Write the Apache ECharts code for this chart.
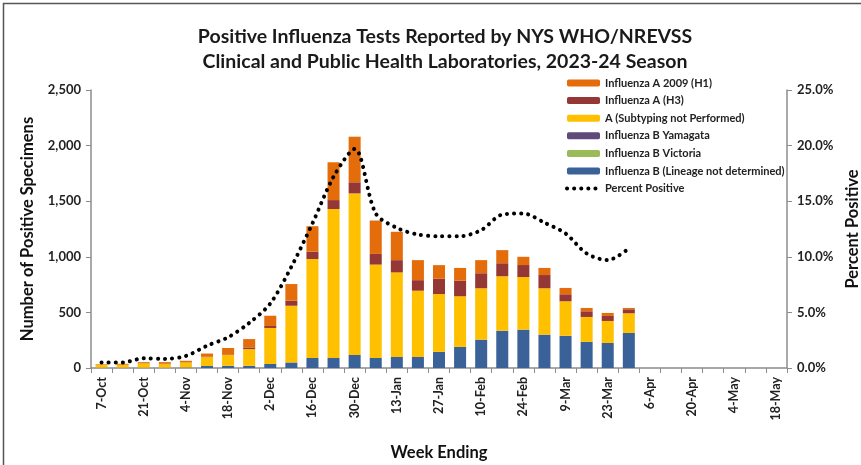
<!DOCTYPE html>
<html>
<head>
<meta charset="utf-8">
<script src="https://cdn.jsdelivr.net/npm/echarts@6/dist/echarts.min.js"></script>
<style>
html,body{margin:0;padding:0;background:#fff;}
#c{width:861px;height:465px;}
</style>
</head>
<body>
<div id="c"></div>
<script>
var weeks = ['7-Oct','14-Oct','21-Oct','28-Oct','4-Nov','11-Nov','18-Nov','25-Nov','2-Dec','9-Dec','16-Dec','23-Dec','30-Dec','6-Jan','13-Jan','20-Jan','27-Jan','3-Feb','10-Feb','17-Feb','24-Feb','2-Mar','9-Mar','16-Mar','23-Mar','30-Mar','6-Apr','13-Apr','20-Apr','27-Apr','4-May','11-May','18-May'];
var fluBUndetermined = [3,3,3,3,5,18,20,20,36,50,90,90,117,90,100,100,145,190,255,335,345,300,290,235,225,315];
var fluBVictoria     = [0,0,0,0,0,0,0,0,0,0,0,0,0,0,0,0,0,0,0,0,0,0,0,0,0,0];
var fluBYamagata     = [0,0,0,0,0,0,0,0,0,0,0,0,0,0,0,0,0,0,0,0,0,0,0,0,0,0];
var fluANotSubtyped  = [24,25,40,32,45,80,97,150,324,510,890,1340,1453,840,760,595,520,455,462,490,473,417,310,224,198,177];
var fluAH3           = [1,2,3,3,2,5,5,15,18,45,66,80,100,96,110,95,138,140,135,117,108,119,63,51,45,36];
var fluAH1           = [5,8,7,15,13,27,58,75,92,150,229,340,410,300,255,180,122,115,118,118,74,64,57,30,27,12];
var percentPositive  = [0.5,0.5,0.87,0.82,1.08,2.0,2.76,4.05,5.8,9.1,13.0,17.2,19.7,13.9,12.6,12.0,11.85,11.85,12.4,13.8,13.9,13.07,12.1,10.3,9.7,10.75];
var leftTicks = [0,500,1000,1500,2000,2500];
var rightTicks = [0,5,10,15,20,25];

var chart = echarts.init(document.getElementById('c'));
var F = 'Lato, "Open Sans", sans-serif';
function bar(name, data, color) {
  return {name:name, type:'bar', stack:'s', data:data, barWidth:'57%', itemStyle:{color:color}, yAxisIndex:0};
}
chart.setOption({
  animation:false,
  textStyle:{fontFamily:F},
  title:{
    text:'Positive Influenza Tests Reported by NYS WHO/NREVSS\nClinical and Public Health Laboratories, 2023-24 Season',
    left:440, top:19, textAlign:'center',
    textStyle:{fontFamily:F, fontSize:19.5, fontWeight:'bold', color:'#1a1a1a', lineHeight:25}
  },
  graphic:[{type:'rect', shape:{x:3.5,y:3.5,width:900,height:500}, style:{fill:'none', stroke:'#555', lineWidth:1.5}, silent:true}],
  legend:{
    orient:'vertical', left:560, top:71, itemWidth:33, itemHeight:7, itemGap:3.6,
    textStyle:{fontFamily:F, fontSize:11, fontWeight:'bold', color:'#222', lineHeight:14},
    data:['Influenza A 2009 (H1)','Influenza A (H3)','A (Subtyping not Performed)','Influenza B Yamagata','Influenza B Victoria','Influenza B (Lineage not determined)',
      {name:'Percent Positive', itemStyle:{opacity:0}, lineStyle:{width:4, type:[0.1,7], cap:'round', color:'#000'}}]
  },
  grid:{left:91, right:74, top:90, bottom:97, containLabel:false, outerBoundsMode:'none'},
  xAxis:{
    type:'category', data:weeks, boundaryGap:true,
    axisLine:{lineStyle:{color:'#8c8c8c', width:1.5}},
    axisTick:{show:true, length:5, alignWithLabel:false, interval:0, lineStyle:{color:'#8c8c8c'}},
    axisLabel:{interval:1, rotate:90, fontSize:12.5, fontWeight:'bold', color:'#222', margin:9},
    name:'Week Ending', nameLocation:'middle', nameGap:76,
    nameTextStyle:{fontSize:16.5, fontWeight:'bold', color:'#111'}
  },
  yAxis:[{
    type:'value', min:leftTicks[0], max:leftTicks[leftTicks.length-1], interval:500,
    axisLine:{show:true, lineStyle:{color:'#8c8c8c', width:1.5}},
    axisTick:{show:true, length:5, lineStyle:{color:'#8c8c8c'}},
    splitLine:{show:false},
    axisLabel:{fontSize:13, fontWeight:'bold', color:'#222', margin:10, formatter:function(v){return v.toLocaleString('en-US');}},
    name:'Number of Positive Specimens', nameLocation:'middle', nameGap:55, nameRotate:90,
    nameTextStyle:{fontSize:16.5, fontWeight:'bold', color:'#111'}
  },{
    type:'value', min:rightTicks[0], max:rightTicks[rightTicks.length-1], interval:5, position:'right',
    axisLine:{show:true, lineStyle:{color:'#8c8c8c', width:1.5}},
    axisTick:{show:true, length:5, lineStyle:{color:'#8c8c8c'}},
    splitLine:{show:false},
    axisLabel:{fontSize:13, fontWeight:'bold', color:'#222', margin:10, formatter:function(v){return v.toFixed(1)+'%';}},
    name:'Percent Positive', nameLocation:'middle', nameGap:56, nameRotate:90,
    nameTextStyle:{fontSize:16.5, fontWeight:'bold', color:'#111'}
  }],
  series:[
    bar('Influenza B (Lineage not determined)', fluBUndetermined, '#3a6298'),
    bar('Influenza B Victoria', fluBVictoria, '#9bbb59'),
    bar('Influenza B Yamagata', fluBYamagata, '#604a7b'),
    bar('A (Subtyping not Performed)', fluANotSubtyped, '#ffc000'),
    bar('Influenza A (H3)', fluAH3, '#953735'),
    bar('Influenza A 2009 (H1)', fluAH1, '#e46c0a'),
    {name:'Percent Positive', type:'line', yAxisIndex:1, data:percentPositive, smooth:0.3, symbol:'none',
     lineStyle:{color:'#000', width:4, type:[0.1,7], cap:'round'}, itemStyle:{color:'#000'}, z:5}
  ]
});
</script>
</body>
</html>
